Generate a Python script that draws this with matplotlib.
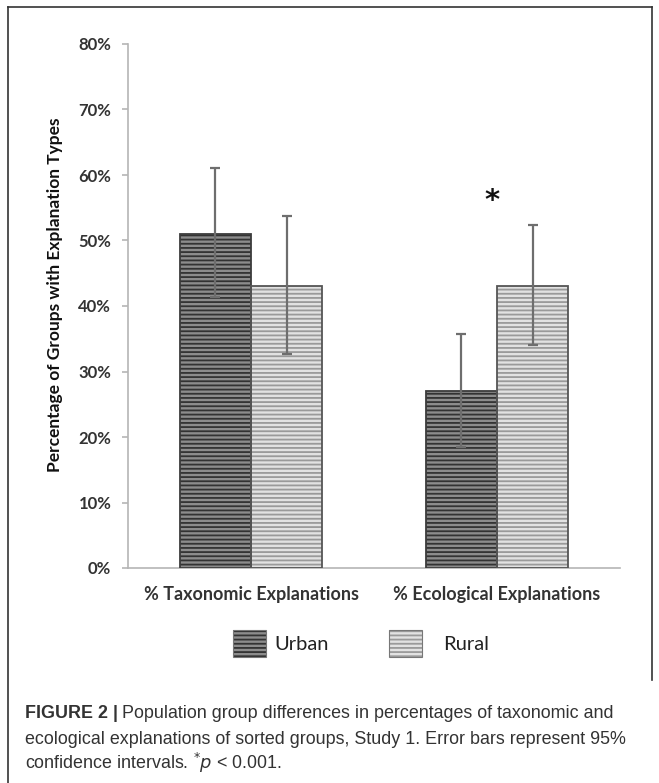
import matplotlib
matplotlib.use("Agg")
import matplotlib.pyplot as plt
import numpy as np
from matplotlib.patches import Rectangle
from matplotlib.lines import Line2D
from matplotlib.ticker import PercentFormatter

# data (percent)
categories = ["% Taxonomic Explanations", "% Ecological Explanations"]
urban = [51, 27]
rural = [43, 43]
urban_lo = [41.3, 18.4]
urban_hi = [61.1, 35.7]
rural_lo = [32.6, 34.0]
rural_hi = [53.8, 52.4]
star_x = 0.98
star_y = 56.0

W, H = 659, 783
fig = plt.figure(figsize=(W / 100, H / 100), dpi=100)
plt.rcParams['hatch.linewidth'] = 1.3

def fx(px):
    return px / W

def fy(py):
    return 1 - py / H

ax = fig.add_axes([fx(128), fy(568), fx(620) - fx(128), fy(44) - fy(568)])

x = np.arange(len(categories))
bw = 0.29
err_u = [np.array(urban) - np.array(urban_lo), np.array(urban_hi) - np.array(urban)]
err_r = [np.array(rural) - np.array(rural_lo), np.array(rural_hi) - np.array(rural)]

# fill + stripes, then outline
ax.bar(x - bw / 2, urban, bw, color="#8c8c8c", edgecolor="#333333", hatch="----", lw=0, zorder=2)
ax.bar(x + bw / 2, rural, bw, color="#e2e2e2", edgecolor="#9a9a9a", hatch="----", lw=0, zorder=2)
ax.bar(x - bw / 2, urban, bw, fill=False, edgecolor="#3c3c3c", lw=1.3, zorder=3)
ax.bar(x + bw / 2, rural, bw, fill=False, edgecolor="#555555", lw=1.3, zorder=3)

ax.errorbar(x - bw / 2, urban, yerr=err_u, fmt="none", ecolor="#6e6e6e", elinewidth=1.6,
            capsize=3.5, capthick=1.6, zorder=4)
ax.errorbar(x + bw / 2, rural, yerr=err_r, fmt="none", ecolor="#6e6e6e", elinewidth=1.6,
            capsize=3.5, capthick=1.6, zorder=4)

ax.text(star_x, star_y, "*", ha="center", va="center", fontsize=21, fontweight="bold",
        family="DejaVu Sans", color="#111111")

ax.set_xlim(-0.5, 1.5)
ax.set_ylim(0, 80)
ax.set_yticks(np.arange(0, 81, 10))
ax.yaxis.set_major_formatter(PercentFormatter(decimals=0))
ax.set_xticks(x)
ax.set_xticklabels(categories)
for s in ["top", "right"]:
    ax.spines[s].set_visible(False)
for s in ["left", "bottom"]:
    ax.spines[s].set_color("#b5b5b5")
    ax.spines[s].set_linewidth(1.2)
ax.tick_params(axis="y", length=4, width=1.2, color="#b5b5b5", pad=8,
               labelsize=12, labelcolor="#333333")
ax.tick_params(axis="x", length=0, pad=13, labelsize=13, labelcolor="#333333")
for t in ax.get_yticklabels() + ax.get_xticklabels():
    t.set_family("Lato")
    t.set_fontweight("bold")

fig.text(fx(55), fy(295), "Percentage of Groups with Explanation Types", rotation=90,
         ha="center", va="center", family="Lato", fontweight="bold", fontsize=12.5,
         color="#111111")

# legend
for (x0, face, hc, label, tx) in [(233, "#8c8c8c", "#333333", "Urban", 274),
                                   (389, "#e2e2e2", "#9a9a9a", "Rural", 443)]:
    fig.add_artist(Rectangle((fx(x0), fy(657)), fx(33), fy(630) - fy(657),
                             transform=fig.transFigure, facecolor=face, edgecolor=hc,
                             hatch="----", lw=0))
    fig.add_artist(Rectangle((fx(x0), fy(657)), fx(33), fy(630) - fy(657),
                             transform=fig.transFigure, fill=False, edgecolor="#777777", lw=0.8))
    fig.text(fx(tx), fy(644), label, ha="left", va="center", family="Lato",
             fontsize=14.5, color="#222222")

# frame
lc = "#333333"
fig.add_artist(Line2D([fx(8), fx(8)], [fy(7), 0], transform=fig.transFigure, color=lc, lw=1.2))
fig.add_artist(Line2D([fx(8), fx(652)], [fy(7), fy(7)], transform=fig.transFigure, color=lc, lw=1.2))
fig.add_artist(Line2D([fx(652), fx(652)], [fy(7), fy(680)], transform=fig.transFigure, color=lc, lw=1.2))

# caption
cap_kw = dict(family="Liberation Sans", fontsize=12.9, color="#333333", va="center", ha="left")
t1 = fig.text(fx(25), fy(713), "FIGURE 2 |", fontweight="bold", **cap_kw)
fig.canvas.draw()
bb = t1.get_window_extent()
fig.text(bb.x1 / W + fx(4), fy(713), "Population group differences in percentages of taxonomic and", **cap_kw)
fig.text(fx(25), fy(739), "ecological explanations of sorted groups, Study 1. Error bars represent 95%", **cap_kw)
fig.text(fx(25), fy(763), r"confidence intervals. $^{*}\mathit{p}$ < 0.001.", **cap_kw)

fig.savefig("out.png", dpi=100)
